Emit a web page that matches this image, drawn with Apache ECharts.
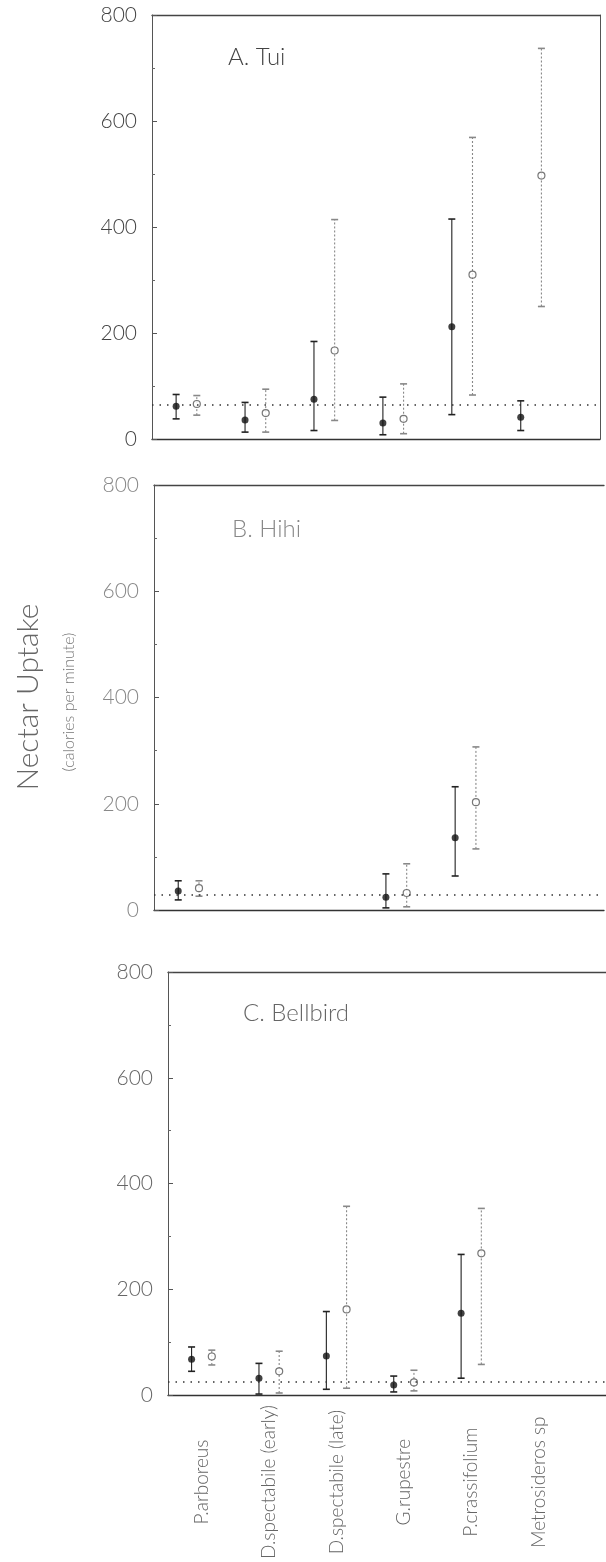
<!DOCTYPE html>
<html><head><meta charset="utf-8">
<script src="https://cdn.jsdelivr.net/npm/echarts@6/dist/echarts.min.js"></script>
<style>html,body{margin:0;padding:0;background:#fff}#c{width:606px;height:1562px}</style>
</head><body><div id="c"></div>
<script>
const categories = ['P.arboreus','D.spectabile (early)','D.spectabile (late)','G.rupestre','P.crassifolium','Metrosideros sp'];
const yTicks = [0,200,400,600,800];

// A. Tui
const tuiFilled   = [62, 36, 75, 30, 212, 41];
const tuiFilledLo = [38, 13, 16,  8,  46, 16];
const tuiFilledHi = [84, 69,184, 79, 415, 72];
const tuiOpen     = [66, 49,167, 38, 310, 497];
const tuiOpenLo   = [45, 13, 35, 10,  83, 250];
const tuiOpenHi   = [82, 94,414,104, 569, 737];
const tuiRef = 64;

// B. Hihi
const hihiFilled   = [36, null, null, 24, 136, null];
const hihiFilledLo = [19, null, null,  4,  64, null];
const hihiFilledHi = [55, null, null, 68, 232, null];
const hihiOpen     = [41, null, null, 32, 203, null];
const hihiOpenLo   = [26, null, null,  6, 115, null];
const hihiOpenHi   = [55, null, null, 87, 307, null];
const hihiRef = 28;

// C. Bellbird
const bellFilled   = [68, 32, 74, 19, 155, null];
const bellFilledLo = [45,  2, 11,  6,  32, null];
const bellFilledHi = [91, 60,158, 36, 266, null];
const bellOpen     = [73, 45,162, 24, 268, null];
const bellOpenLo   = [57,  4, 13,  8,  58, null];
const bellOpenHi   = [85, 83,357, 47, 353, null];
const bellRef = 25;

const panels = [
  {title:'A. Tui', f:tuiFilled, fl:tuiFilledLo, fh:tuiFilledHi, o:tuiOpen, ol:tuiOpenLo, oh:tuiOpenHi, ref:tuiRef,
   grid:{left:152, top:15, width:448, height:424}, xmax:6, txt:'#444', tx:228, ty:58, right:true},
  {title:'B. Hihi', f:hihiFilled, fl:hihiFilledLo, fh:hihiFilledHi, o:hihiOpen, ol:hihiOpenLo, oh:hihiOpenHi, ref:hihiRef,
   grid:{left:154, top:485, width:450, height:425}, xmax:6, txt:'#888', tx:232, ty:530, right:false},
  {title:'C. Bellbird', f:bellFilled, fl:bellFilledLo, fh:bellFilledHi, o:bellOpen, ol:bellOpenLo, oh:bellOpenHi, ref:bellRef,
   grid:{left:168, top:972, width:447, height:424}, xmax:6, txt:'#666', tx:243, ty:1014, right:false}
];
const OFF = 0.15;

function pts(vals, off){ return vals.map((v,i)=> v==null ? null : [i+off, v]).filter(d=>d); }
function bars(lo, hi, off){ return lo.map((v,i)=> v==null ? null : [i+off, v, hi[i]]).filter(d=>d); }
function errRender(color, dash){
  return function(params, api){
    const x = api.value(0);
    const p1 = api.coord([x, api.value(1)]);
    const p2 = api.coord([x, api.value(2)]);
    const w = 3.5;
    const st = {stroke: color, lineWidth: 1.1, lineDash: dash};
    const cap = {stroke: color, lineWidth: 1.6};
    return {type:'group', children:[
      {type:'line', shape:{x1:p1[0], y1:p1[1], x2:p2[0], y2:p2[1]}, style:st},
      {type:'line', shape:{x1:p1[0]-w, y1:p1[1], x2:p1[0]+w, y2:p1[1]}, style:cap},
      {type:'line', shape:{x1:p2[0]-w, y1:p2[1], x2:p2[0]+w, y2:p2[1]}, style:cap}
    ]};
  };
}

const grids=[], xAxes=[], yAxes=[], series=[], graphics=[];
const FONT = 'Lato, "Liberation Sans", sans-serif';
panels.forEach((p, k)=>{
  grids.push(p.grid);
  const isLast = k === panels.length-1;
  xAxes.push({type:'value', gridIndex:k, min:-0.5, max:p.xmax, position:'bottom',
    axisLine:{show:true, onZero:false, lineStyle:{color:'#333', width:1.3}},
    axisTick:{show:false}, splitLine:{show:false},
    axisLabel: isLast ? {show:true, customValues:[0,1,2,3,4,5], rotate:90, margin:87, align:'center', verticalAlign:'middle',
        formatter:v=>categories[Math.round(v)] || '', color:'#666', fontSize:19, fontFamily:FONT, fontWeight:300}
      : {show:false}
  });
  xAxes.push({type:'value', gridIndex:k, min:-0.5, max:p.xmax, position:'top',
    axisLine:{show:true, onZero:false, lineStyle:{color:'#444', width:1.3}},
    axisTick:{show:false}, splitLine:{show:false}, axisLabel:{show:false}});
  yAxes.push({type:'value', gridIndex:k, min:0, max:800, interval:200, position:'left',
    axisLine:{show:true, onZero:false, lineStyle:{color:'#555', width:1}},
    axisTick:{show:true, inside:true, length:5, lineStyle:{color:'#555'}},
    minorTick:{show:true, splitNumber:2, length:3, lineStyle:{color:'#666'}},
    splitLine:{show:false},
    axisLabel:{show:true, margin:15, color:p.txt, fontSize:21, fontFamily:FONT, fontWeight:300,
      customValues: yTicks}
  });
  if (p.right){
    yAxes.push({type:'value', gridIndex:k, min:0, max:800, position:'right',
      axisLine:{show:true, onZero:false, lineStyle:{color:'#555', width:1}},
      axisTick:{show:false}, splitLine:{show:false}, axisLabel:{show:false}});
  }
  const xi = k*2;
  const yi = yAxes.length - (p.right?2:1);
  series.push({type:'custom', xAxisIndex:xi, yAxisIndex:yi, renderItem:errRender('#222', null),
    data:bars(p.fl, p.fh, -OFF), z:2, silent:true});
  series.push({type:'custom', xAxisIndex:xi, yAxisIndex:yi, renderItem:errRender('#888', [2,2]),
    data:bars(p.ol, p.oh, OFF), z:2, silent:true});
  series.push({type:'scatter', xAxisIndex:xi, yAxisIndex:yi, symbol:'circle', symbolSize:7,
    itemStyle:{color:'#111'}, data:pts(p.f, -OFF), z:4, silent:true,
    markLine:{silent:true, symbol:'none', label:{show:false},
      lineStyle:{color:'#333', type:[1.5,6], width:1.5}, data:[{yAxis:p.ref}]}});
  series.push({type:'scatter', xAxisIndex:xi, yAxisIndex:yi, symbol:'circle', symbolSize:7,
    itemStyle:{color:'#fff', borderColor:'#555', borderWidth:1.2}, data:pts(p.o, OFF), z:4, silent:true});
  graphics.push({type:'text', left:p.tx, top:p.ty-13, style:{text:p.title, fill:p.txt, fontSize:24, fontFamily:FONT, fontWeight:300}});
});

graphics.push({type:'text', x:28, y:697, rotation:Math.PI/2,
  style:{text:'Nectar Uptake', fill:'#666', fontSize:30, fontFamily:FONT, fontWeight:300, align:'center', verticalAlign:'middle'}});
graphics.push({type:'text', x:69, y:702, rotation:Math.PI/2,
  style:{text:'(calories per minute)', fill:'#777', fontSize:16, fontFamily:FONT, fontWeight:300, align:'center', verticalAlign:'middle'}});

const chart = echarts.init(document.getElementById('c'), null, {renderer:'canvas'});
chart.setOption({animation:false, backgroundColor:'#fff', grid:grids, xAxis:xAxes, yAxis:yAxes, series:series, graphic:graphics});
</script></body></html>
